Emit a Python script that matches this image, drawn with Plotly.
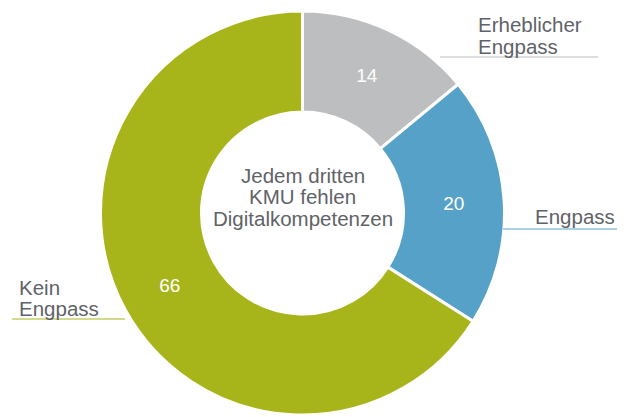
import plotly.graph_objects as go

W, H = 627, 417

categories = ["Erheblicher Engpass", "Engpass", "Kein Engpass"]
values = [14, 20, 66]
colors = ["#bcbec0", "#56a1c8", "#a7b51a"]

center_lines = ["Jedem dritten", "KMU fehlen", "Digitalkompetenzen"]

FONT = "Arial, Liberation Sans, sans-serif"
TXT = "#5f6368"

cx, cy, R = 302.5, 213, 202

def px(x):
    return x / W

def py(y):
    return 1 - y / H

fig = go.Figure()
fig.add_trace(go.Pie(
    labels=categories,
    values=values,
    hole=0.5,
    sort=False,
    direction="clockwise",
    rotation=0,
    marker=dict(colors=colors, line=dict(color="white", width=3)),
    textinfo="value",
    textposition="inside",
    insidetextorientation="horizontal",
    insidetextfont=dict(color="white", size=19, family=FONT),
    domain=dict(x=[px(cx - R), px(cx + R)], y=[py(cy + R), py(cy - R)]),
    showlegend=False,
    hoverinfo="label+value",
))

annotations = []
# center text
for line, yy in zip(center_lines, [175, 197, 219]):
    annotations.append(dict(x=px(cx), y=py(yy), xref="paper", yref="paper",
                            text=line, showarrow=False, xanchor="center", yanchor="middle",
                            font=dict(size=20.5, color=TXT, family=FONT)))
# outside labels
labels_out = [
    ("Erheblicher", 476, 24.5, "left"),
    ("Engpass", 476, 46.5, "left"),
    ("Engpass", 617, 216.5, "right"),
    ("Kein", 17, 287.5, "left"),
    ("Engpass", 17, 308.5, "left"),
]
for t, x, y, anc in labels_out:
    annotations.append(dict(x=px(x), y=py(y), xref="paper", yref="paper",
                            text=t, showarrow=False, xanchor=anc, yanchor="middle",
                            font=dict(size=20.5, color=TXT, family=FONT)))

shapes = [
    dict(type="line", xref="paper", yref="paper", x0=px(440), x1=px(598), y0=py(57), y1=py(57),
         line=dict(color=colors[0], width=1.2)),
    dict(type="line", xref="paper", yref="paper", x0=px(503), x1=px(617), y0=py(229), y1=py(229),
         line=dict(color=colors[1], width=1.2)),
    dict(type="line", xref="paper", yref="paper", x0=px(12), x1=px(125), y0=py(319), y1=py(319),
         line=dict(color=colors[2], width=1.2)),
]

fig.update_layout(
    width=W, height=H,
    margin=dict(l=0, r=0, t=0, b=0),
    paper_bgcolor="white", plot_bgcolor="white",
    annotations=annotations,
    shapes=shapes,
)

fig.write_html("out.html", config={"displayModeBar": False},
               post_script="document.body.style.margin='0';document.body.style.overflow='hidden';")
